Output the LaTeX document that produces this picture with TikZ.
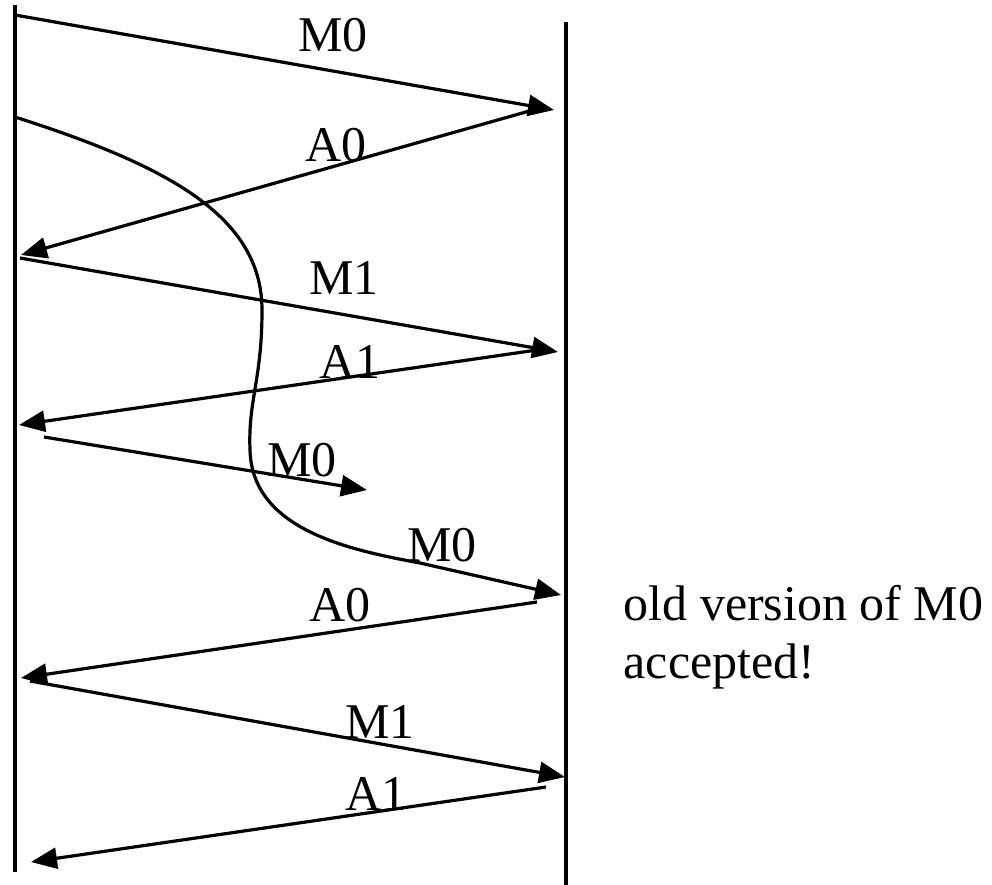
\documentclass[tikz,border=0pt]{standalone}
\usepackage{fontspec}
\setmainfont{Liberation Serif}
\usetikzlibrary{arrows.meta}
\begin{document}
\begin{tikzpicture}[x=1pt,y=-1pt,
  line width=3.2pt,
  msg/.style={-{Triangle[length=26pt,width=21pt]}},
  lbl/.style={font=\fontsize{50}{58}\selectfont, inner sep=0pt},
  lifeline/.style={line width=3.4pt}]
\useasboundingbox (0,0) rectangle (992,885);
% lifelines
\coordinate (Ltop) at (15,5);
\coordinate (Lbot) at (15,872);
\coordinate (Rtop) at (566,22);
\coordinate (Rbot) at (566,885);
\draw[lifeline] (Ltop) -- (Lbot);
\draw[lifeline] (Rtop) -- (Rbot);
% endpoints
\coordinate (m0s) at (15,15);   \coordinate (m0e) at (554,110);
\coordinate (a0s) at (540,108); \coordinate (a0e) at (21,255);
\coordinate (m1s) at (20,258);  \coordinate (m1e) at (558,352);
\coordinate (a1s) at (537,350); \coordinate (a1e) at (19,425);
\coordinate (m0bs) at (44,437); \coordinate (m0be) at (367,490);
\coordinate (cs) at (15,117);   \coordinate (ce) at (561,595);
\coordinate (a0bs) at (537,602); \coordinate (a0be) at (21,678);
\coordinate (m1bs) at (30,681); \coordinate (m1be) at (565,777);
\coordinate (a1bs) at (546,787); \coordinate (a1be) at (31,862);
% arrows
\draw[msg] (m0s) -- (m0e);
\draw[msg] (a0s) -- (a0e);
\draw[msg] (m1s) -- (m1e);
\draw[msg] (a1s) -- (a1e);
\draw[msg] (m0bs) -- (m0be);
\draw[msg] (cs) .. controls (165,165) and (262,215) .. (262,310)
  .. controls (262,380) and (248,400) .. (250,450)
  .. controls (252,530) and (350,550) .. (420,563) -- (ce);
\draw[msg] (a0bs) -- (a0be);
\draw[msg] (m1bs) -- (m1be);
\draw[msg] (a1bs) -- (a1be);
% labels
\node[lbl] (lm0) at (333,35) {M0};
\node[lbl] (la0) at (336,145) {A0};
\node[lbl] (lm1) at (344,278) {M1};
\node[lbl] (la1) at (350,362) {A1};
\node[lbl] (lm0b) at (302,460) {M0};
\node[lbl] (lm0c) at (442,545) {M0};
\node[lbl] (la0b) at (340,605) {A0};
\node[lbl] (lm1b) at (380,722) {M1};
\node[lbl] (la1b) at (376,794) {A1};
\node[lbl, anchor=base west] (t1) at (622,620) {old version of M0};
\node[lbl, anchor=base west] (t2) at (622,678) {accepted!};
\end{tikzpicture}
\end{document}
